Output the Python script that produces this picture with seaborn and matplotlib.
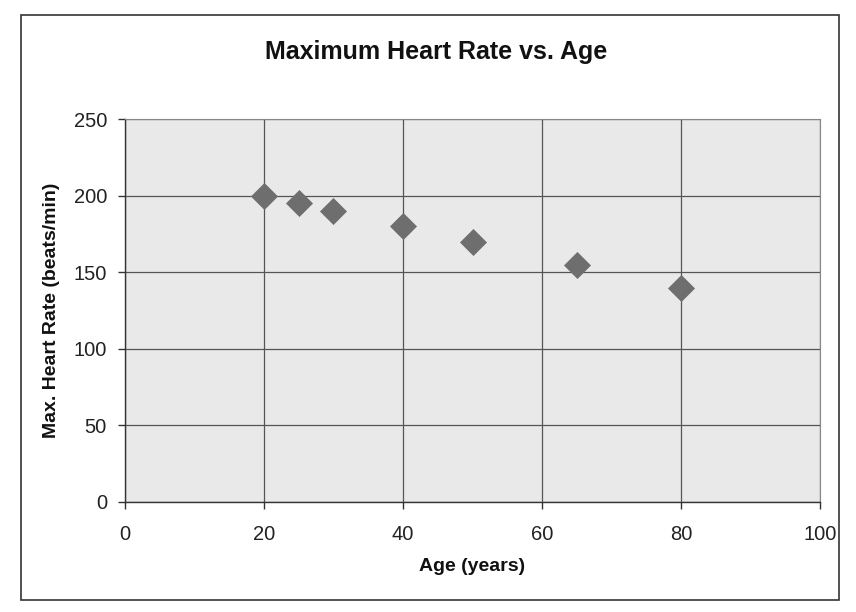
import matplotlib
matplotlib.use("Agg")
import matplotlib.pyplot as plt
import seaborn as sns
import pandas as pd
from matplotlib.patches import Rectangle

ages = [20, 25, 30, 40, 50, 65, 80]
max_hr = [200, 195, 190, 180, 170, 155, 140]
x_ticks = [0, 20, 40, 60, 80, 100]
y_ticks = [0, 50, 100, 150, 200, 250]

sns.set_theme(style="white")
plt.rcParams['font.family'] = ['Liberation Sans', 'DejaVu Sans']

df = pd.DataFrame({"Age": ages, "HR": max_hr})

fig = plt.figure(figsize=(8.56, 6.12), dpi=100)
fig.patch.set_facecolor("white")
fig.patches.append(Rectangle((0.025, 0.02), 0.955, 0.955, transform=fig.transFigure,
                             fill=False, edgecolor="#333333", linewidth=1.2))
ax = fig.add_axes([0.146, 0.18, 0.812, 0.625])
ax.set_facecolor("#e9e9e9")

sns.scatterplot(data=df, x="Age", y="HR", marker="D", s=190, color="#6e6e6e",
                edgecolor="#6e6e6e", linewidth=0, ax=ax, zorder=3)

ax.set_xlim(0, 100)
ax.set_ylim(0, 250)
ax.set_xticks(x_ticks)
ax.set_yticks(y_ticks)
ax.grid(True, color="#555555", linewidth=0.9)
ax.set_axisbelow(True)
for side in ["top", "right"]:
    ax.spines[side].set_visible(True)
    ax.spines[side].set_color("#888888")
    ax.spines[side].set_linewidth(0.8)
for side in ["left", "bottom"]:
    ax.spines[side].set_color("#333333")
    ax.spines[side].set_linewidth(1.0)
ax.tick_params(axis="both", which="both", direction="out", length=5, width=1,
               color="#333333", labelsize=14.5, labelcolor="#222222", bottom=True, left=True, pad=8)
ax.tick_params(axis="x", pad=12)

ax.set_xlabel("Age (years)", fontsize=14, fontweight="bold", color="#111111", labelpad=10)
ax.set_ylabel("Max. Heart Rate (beats/min)", fontsize=14, fontweight="bold", color="#111111", labelpad=10)
fig.text(0.51, 0.915, "Maximum Heart Rate vs. Age", ha="center", va="center",
         fontsize=18, fontweight="bold", color="#111111")

fig.savefig("out.png", dpi=100)
